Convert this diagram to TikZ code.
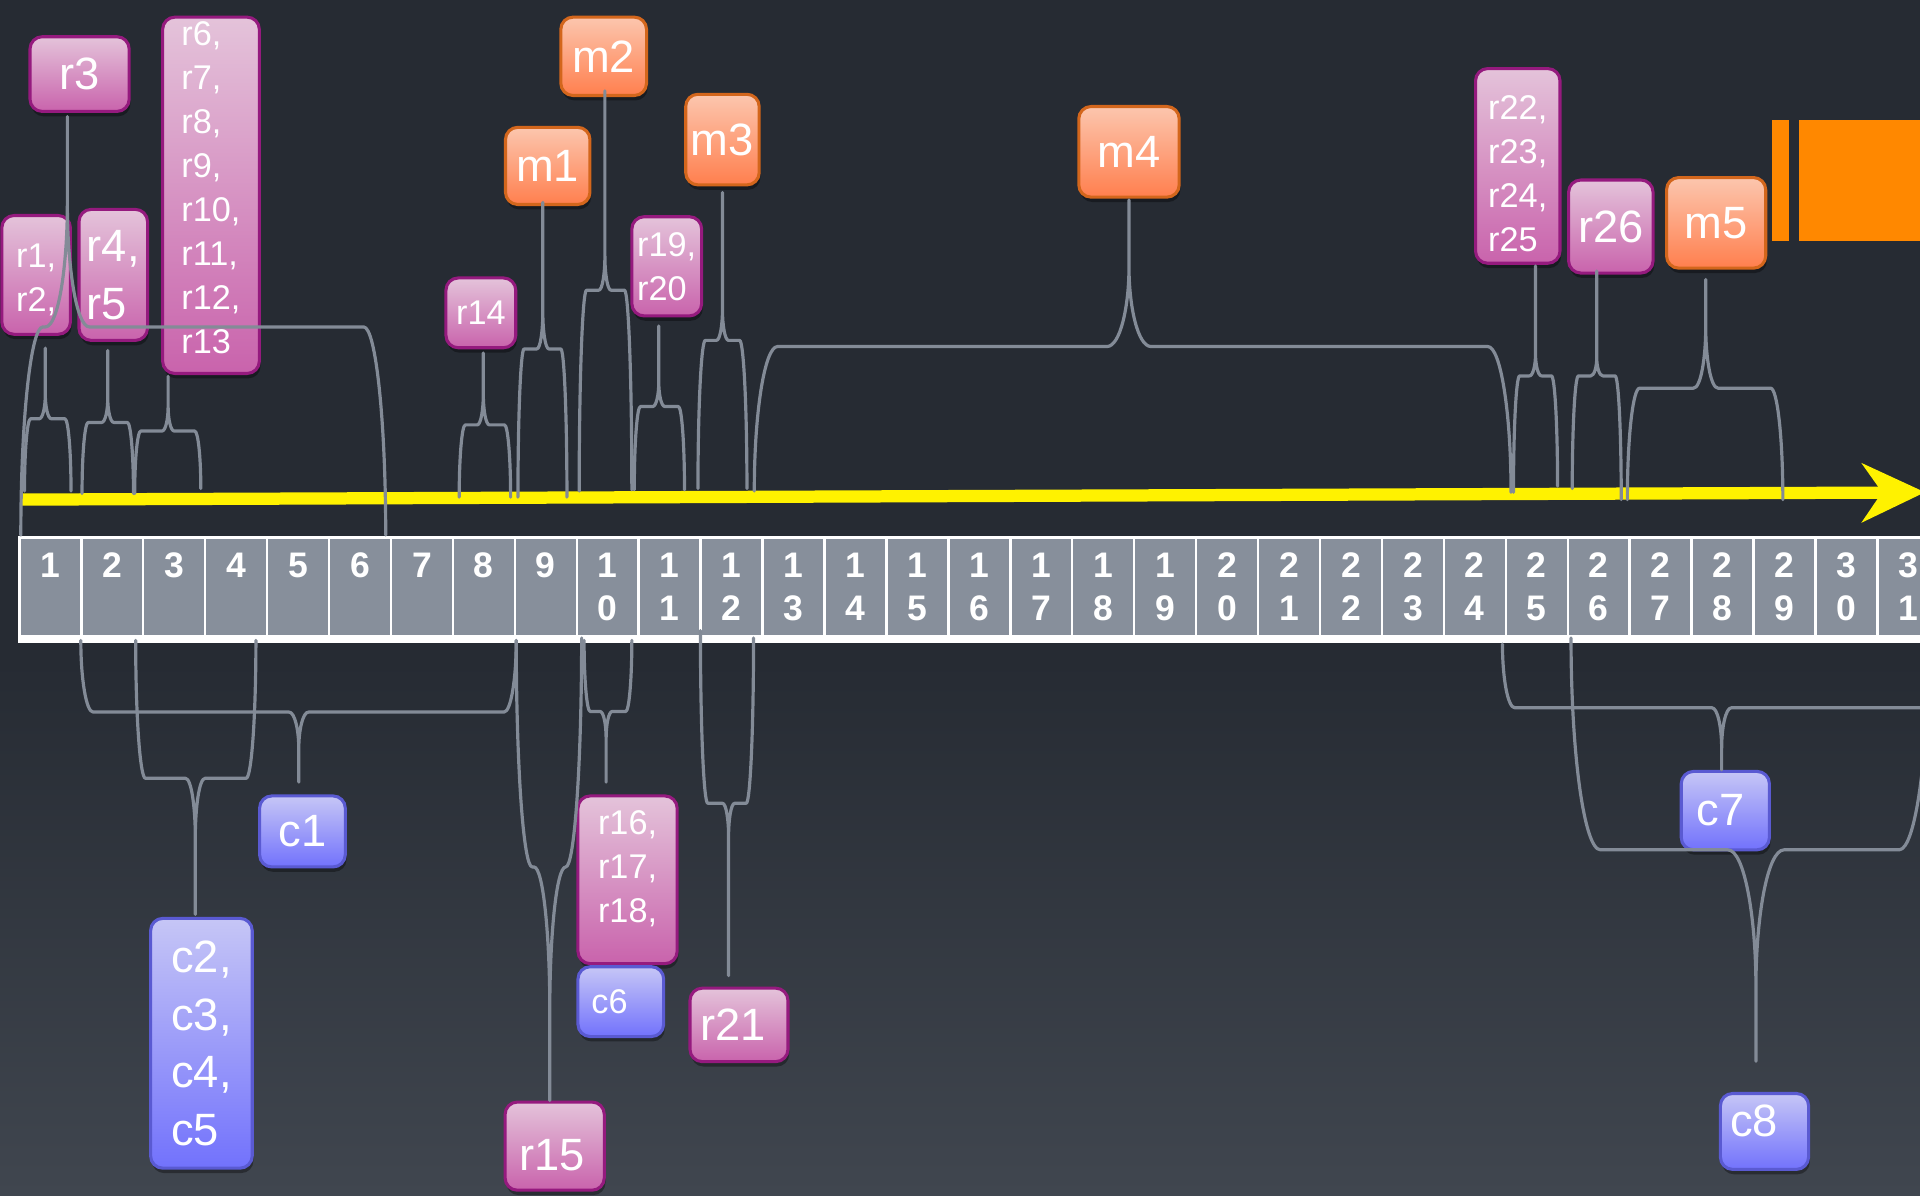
\documentclass[tikz,border=0pt]{standalone}
\usepackage{fontspec}
\setmainfont{Liberation Sans}
\usetikzlibrary{calc,shadows}

\definecolor{bgtop}{HTML}{262B33}
\definecolor{bgbot}{HTML}{40464F}
\definecolor{cellgray}{HTML}{878F9B}
\definecolor{linkgray}{HTML}{838B97}
\definecolor{rtop}{HTML}{E4C3DA}
\definecolor{rbot}{HTML}{C963AC}
\definecolor{rline}{HTML}{951A7E}
\definecolor{mtop}{HTML}{FCC6AE}
\definecolor{mbot}{HTML}{FF7F4E}
\definecolor{mline}{HTML}{D3661C}
\definecolor{ctop}{HTML}{C6C6F6}
\definecolor{cbot}{HTML}{7272FC}
\definecolor{cline}{HTML}{5A5AD2}
\definecolor{barorange}{HTML}{FF8800}

% brace: [leg bend]{tip}{left foot}{right foot}{bar y}{cusp height}{cusp half width}
\newcommand\timebrace[7][6]{%
  \draw[link] let \p1=(#3), \p2=(#4), \p3=(#2) in
    (\p1) .. controls ({\x1},{-#5+0.45*(\y1+#5)}) and ({\x1+0.45*#1},{-#5}) .. ({\x1+#1},{-#5})
    -- ({\x3-#7},{-#5})
    .. controls ({\x3-0.4*#7},{-#5}) and ({\x3},{-#5+0.5*(#6)}) .. ({\x3},{-#5+(#6)})
    -- (\p3) -- ({\x3},{-#5+(#6)})
    .. controls ({\x3},{-#5+0.5*(#6)}) and ({\x3+0.4*#7},{-#5}) .. ({\x3+#7},{-#5})
    -- ({\x2-#1},{-#5})
    .. controls ({\x2-0.45*#1},{-#5}) and ({\x2},{-#5+0.45*(\y2+#5)}) .. (\p2);}

\begin{document}
\begin{tikzpicture}[x=1pt, y=1pt,
    link/.style={draw=linkgray, line width=2.6pt, line cap=round, line join=round},
    box/.style={rounded corners=10pt, line width=2.5pt, text=white, inner sep=0pt, align=left,
                drop shadow={shadow xshift=1pt, shadow yshift=-4pt, opacity=.35, fill=black}},
    rbox/.style={box, draw=rline, top color=rtop, bottom color=rbot},
    mbox/.style={box, draw=mline, top color=mtop, bottom color=mbot},
    cbox/.style={box, draw=cline, top color=ctop, bottom color=cbot},
    big/.style={font=\fontsize{37}{47}\selectfont},
    small/.style={font=\fontsize{28}{36}\selectfont},
    cell/.style={draw=white, line width=2pt, fill=cellgray, minimum width=50.58pt,
                 minimum height=80.5pt, inner sep=0pt, text=white, align=center,
                 font=\fontsize{29}{35}\selectfont\bfseries}]

\useasboundingbox (0,0) rectangle (1568,-976);
\clip (0,0) rectangle (1568,-976);
\fill[bgtop] (0,0) rectangle (1568,-976);
\shade[top color=bgtop, bottom color=bgbot] (0,-540) rectangle (1568,-976);

\fill[barorange] (1447,-98) rectangle (1461,-197);
\fill[barorange] (1469,-98) rectangle (1600,-197);

\foreach \i in {1,...,31}{
  \pgfmathtruncatemacro\tens{\i/10}
  \pgfmathtruncatemacro\ones{mod(\i,10)}
  \ifnum\i<10 \def\lbl{\i\\\phantom{0}}\else\def\lbl{\tens\\\ones}\fi
  \node[cell] (n\i) at ({15.8+50.58*(\i-0.5)},-479.25) {\lbl};
}
\fill[white] (n1.south west) rectangle ($(n31.south east)+(0,-5)$);

\coordinate (t0) at (17,-408);
\coordinate (t1) at (1540,-402.3);
\draw[yellow, line width=10pt] (t0) -- (t1);
\fill[yellow] (1520,-378) -- (1572,-402) -- (1520,-427) -- (1537,-402) -- cycle;

\foreach \n/\x/\y in {r12L/20/401, r12R/58/401, r45L/67/403, r45R/109/403,
    r6L/110/403, r6R/164/399, r3L/17/437, r3R/315/437, r14L/375/406, r14R/417/406,
    m1L/423/406, m1R/463/406, m2L/473/401, m2R/516/400, r19L/518/400, r19R/559/400,
    m3L/570/399, m3R/610/399, m4L/616/401, m4R/1234/402, r22L/1236/402, r22R/1272/397,
    r26L/1284/399, r26R/1324/408, m5L/1329/408, m5R/1456/408,
    c1L/66/523, c1R/421.6/523, c2L/110.8/523, c2R/209/523, r15L/421.6/523, r15R/475/521,
    r16L/477/523, r16R/516/523, r21L/572/515, r21R/615.4/521,
    c7L/1227/526, c7R/1620/523, c8L/1283/521, c8R/1575/523}
  \coordinate (\n) at (\x,-\y);

\node[rbox, big, minimum width=81pt, minimum height=61pt] (r3) at (65,-60.5) {r3};
\node[rbox, small, minimum width=56pt, minimum height=97pt, text height=64pt] (r12)
    at (29.5,-224.5) {r1,\\r2,};
\node[rbox, big, minimum width=56pt, minimum height=107pt] (r45) at (92.5,-224.5) {r4,\\r5};
\node[rbox, small, minimum width=79pt, minimum height=291pt, text depth=13pt] (r6)
    at (172.3,-159.5) {r6,\\r7,\\r8,\\r9,\\r10,\\r11,\\r12,\\r13};
\node[rbox, small, minimum width=57pt, minimum height=57pt] (r14) at (392.7,-255.5) {r14};
\node[mbox, big, minimum width=69pt, minimum height=63pt] (m1) at (447.3,-135.5) {m1};
\node[mbox, big, minimum width=70pt, minimum height=64pt] (m2) at (493,-46) {m2};
\node[rbox, small, minimum width=57pt, minimum height=81pt] (r19) at (544.5,-217.5) {r19,\\r20};
\node[mbox, big, minimum width=60pt, minimum height=74pt] (m3) at (590,-114) {m3};
\node[mbox, big, minimum width=82pt, minimum height=74pt] (m4) at (922,-124) {m4};
\node[rbox, small, minimum width=69pt, minimum height=159pt, text height=140pt] (r22)
    at (1239.5,-135.5) {r22,\\r23,\\r24,\\r25};
\node[rbox, big, minimum width=69pt, minimum height=76pt] (r26) at (1315.5,-185) {r26};
\node[mbox, big, minimum width=81pt, minimum height=74pt] (m5) at (1401.5,-182) {m5};
\node[cbox, big, minimum width=70pt, minimum height=58pt] (c1) at (247,-679) {c1};
\node[cbox, big, minimum width=83pt, minimum height=204pt] (c2) at (164.5,-852) {c2,\\c3,\\c4,\\c5};
\node[rbox, small, minimum width=81pt, minimum height=137pt, text depth=21pt] (r16)
    at (512.5,-718.5) {r16,\\r17,\\r18,};
\node[cbox, small, minimum width=70pt, minimum height=57pt, text width=48pt] (c6) at (507,-818) {c6};
\node[rbox, big, minimum width=80pt, minimum height=60pt, text width=63pt] (r21) at (603.5,-837) {r21};
\node[rbox, big, minimum width=81pt, minimum height=72pt, text width=58pt, text height=40pt] (r15)
    at (453,-936) {r15};
\node[cbox, big, minimum width=72pt, minimum height=64pt, text width=47pt] (c7) at (1409,-662) {c7};
\node[cbox, big, minimum width=72pt, minimum height=62pt, text width=56pt, text depth=18pt] (c8)
    at (1441,-924) {c8};

\timebrace[5]{$(r12.south)+(7.5,-10)$}{r12L}{r12R}{342}{20}{5}
\timebrace[5]{$(r45.south)+(-4.5,-7)$}{r45L}{r45R}{345}{20}{5}
\timebrace[5]{$(r6.south)+(-35,-1)$}{r6L}{r6R}{352}{20}{5}
\timebrace[18]{$(r3.south)+(-10,-3)$}{r3L}{r3R}{267}{100}{18}
\timebrace[5]{$(r14.south)+(2,-3)$}{r14L}{r14R}{347}{25}{5}
\timebrace[5]{$(m1.south)+(-4,3)$}{m1L}{m1R}{285}{30}{5}
\timebrace[6]{$(m2.south)+(1,5)$}{m2L}{m2R}{237}{28}{5}
\timebrace[5]{$(r19.south)+(-6.5,-7)$}{r19L}{r19R}{332}{20}{5}
\timebrace[6]{$(m3.south)+(0,-5)$}{m3L}{m3R}{278}{25}{5}
\timebrace[19]{$(m4.south)+(0,-1)$}{m4L}{m4R}{283}{65}{18}
\timebrace[5]{$(r22.south)+(14.5,-1)$}{r22L}{r22R}{307}{18}{5}
\timebrace[5]{$(r26.south)+(-11.5,3)$}{r26L}{r26R}{307}{15}{5}
\timebrace[10]{$(m5.south)+(-8.5,-8)$}{m5L}{m5R}{317}{50}{10}

\timebrace[10]{$(c1.north)+(-3,10)$}{c1L}{c1R}{581.5}{-30}{8}
\timebrace[8]{$(c2.north)+(-5,2)$}{c2L}{c2R}{635.6}{-48}{8}
\timebrace[13]{$(r15.north)+(-4,0)$}{r15L}{r15R}{708}{-116}{13}
\timebrace[5]{$(r16.north)+(-17.5,10)$}{r16L}{r16R}{581}{-22}{5}
\timebrace[6]{$(r21.north)+(-8.5,9)$}{r21L}{r21R}{656}{-27}{5}
\timebrace[10]{$(c7.north)+(-3,0)$}{c7L}{c7R}{578}{-33}{8}
\timebrace[24]{$(c8.north)+(-7,25)$}{c8L}{c8R}{694}{-112}{23}

\end{tikzpicture}
\end{document}
